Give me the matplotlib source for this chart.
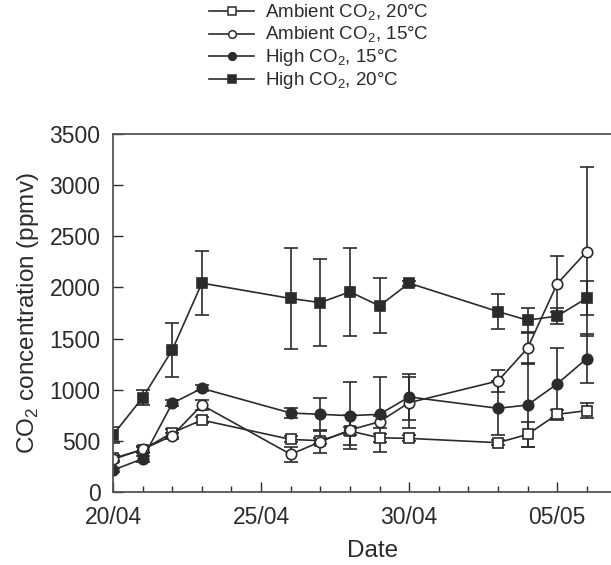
import matplotlib.pyplot as plt
from matplotlib.lines import Line2D
from matplotlib.ticker import MultipleLocator

plt.rcParams['font.family'] = ['Liberation Sans', 'DejaVu Sans']
plt.rcParams['mathtext.fontset'] = 'custom'
plt.rcParams['mathtext.rm'] = 'Liberation Sans'

# days counted from 1 April (May days continue as 31, 32, ...)
days = [20, 21, 22, 23, 26, 27, 28, 29, 30, 33, 34, 35, 36]

amb20 = [330, 415, 580, 704, 515, 502, 597, 531, 525, 483, 564, 760, 796]
amb20_err = [30, 30, 40, 30, 30, 30, 40, 40, 30, 25, 120, 40, 75]

amb15 = [320, 418, 551, 851, 369, 492, 607, 688, 874, 1086, 1406, 2035, 2351]
amb15_err = [30, 30, 30, 50, 75, 110, 150, 60, 250, 110, 150, 275, 830]

high15 = [215, 326, 868, 1014, 773, 760, 747, 760, 930, 819, 851, 1057, 1305]
high15_err = [20, 30, 30, 30, 45, 155, 330, 365, 225, 265, 408, 355, 240]

high20 = [560, 923, 1389, 2042, 1892, 1852, 1957, 1820, 2042, 1764, 1680, 1720, 1895]
high20_err = [80, 70, 265, 315, 495, 425, 430, 270, 25, 167, 115, 75, 163]

tick_days = [20, 25, 30, 35]
tick_labels = ['20/04', '25/04', '30/04', '05/05']

c = '#2b2b2b'
fig = plt.figure(figsize=(6.11, 5.65), dpi=100)
ax = fig.add_axes([0.185, 0.129, 0.848, 0.634])

series = [
    (amb20, amb20_err, 's', 'white', 'Ambient CO$_2$, 20°C'),
    (amb15, amb15_err, 'o', 'white', 'Ambient CO$_2$, 15°C'),
    (high15, high15_err, 'o', c, 'High CO$_2$, 15°C'),
    (high20, high20_err, 's', c, 'High CO$_2$, 20°C'),
]
handles = []
for vals, err, m, fc, lab in series:
    ax.errorbar(days, vals, yerr=err, color=c, marker=m, markersize=7.5,
                markerfacecolor=fc, markeredgecolor=c, markeredgewidth=1.2,
                linewidth=1.2, elinewidth=1.2, capsize=5, capthick=1.2)
    handles.append(Line2D([], [], color=c, marker=m, markersize=5.5,
                          markerfacecolor=fc, markeredgecolor=c,
                          markeredgewidth=1.1, linewidth=1.2, label=lab))

ax.set_xlim(20, 37.5)
ax.set_ylim(0, 3500)
ax.set_xticks(tick_days)
ax.set_xticklabels(tick_labels)
ax.xaxis.set_minor_locator(MultipleLocator(1))
ax.yaxis.set_major_locator(MultipleLocator(500))
ax.tick_params(axis='both', which='major', direction='in', length=7,
               labelsize=16.5, colors=c, width=1)
ax.tick_params(axis='y', pad=9)
ax.tick_params(axis='x', pad=10)
ax.tick_params(axis='x', which='minor', direction='in', length=4, width=1, color=c)
for s in ax.spines.values():
    s.set_color('#555555')
    s.set_linewidth(1.3)

ax.set_xlabel('Date', fontsize=17.5, color=c, labelpad=8)
ax.set_ylabel('CO$_2$ concentration (ppmv)', fontsize=17.5, color=c, labelpad=6)

leg = fig.legend(handles=handles, loc='upper left', bbox_to_anchor=(0.33, 1.008),
                 frameon=False, fontsize=13.5, handlelength=2.4,
                 handletextpad=0.6, labelspacing=0.1, borderaxespad=0)
for t in leg.get_texts():
    t.set_color(c)

fig.savefig('out.png', dpi=100)
